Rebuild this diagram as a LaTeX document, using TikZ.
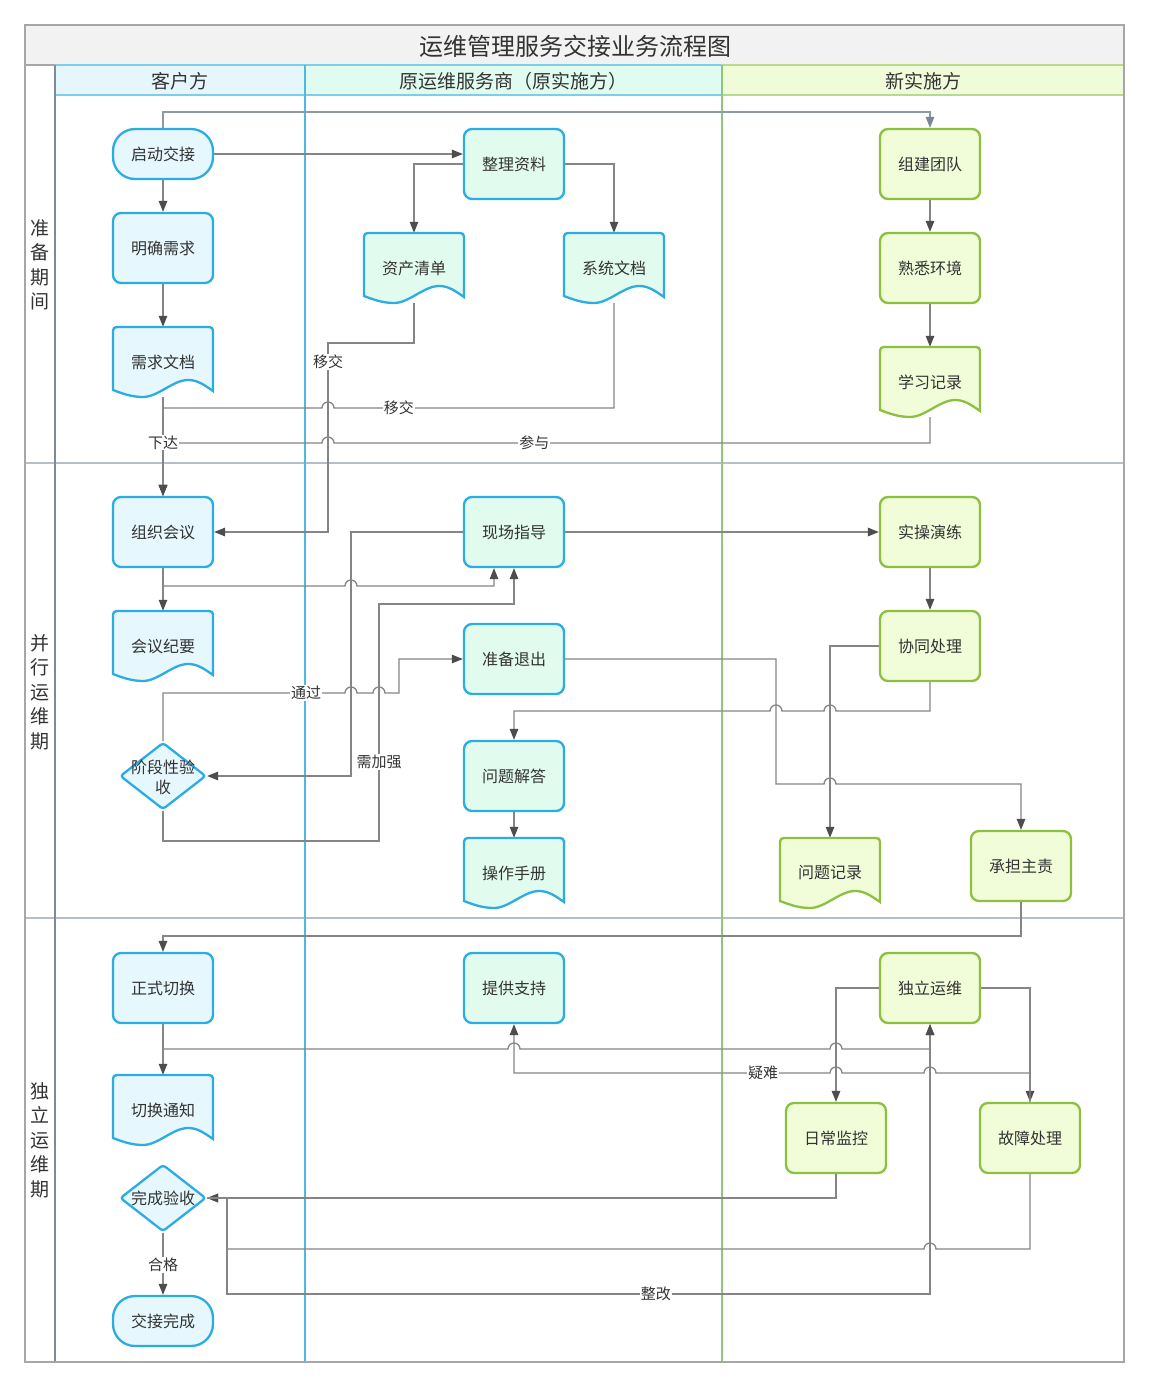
\documentclass[tikz,border=0pt]{standalone}
\usepackage{fontspec}
\setmainfont{Noto Sans CJK SC}
\usetikzlibrary{arrows.meta,shapes.geometric,calc}
\definecolor{textgray}{HTML}{333333}
\definecolor{bluefill}{HTML}{E6F7FD}
\definecolor{blueedge}{HTML}{2BACE2}
\definecolor{mintfill}{HTML}{E1FCEF}
\definecolor{greenfill}{HTML}{F1FCD9}
\definecolor{greenedge}{HTML}{8CC03F}
\definecolor{titlebg}{HTML}{F2F2F2}
\definecolor{hOne}{HTML}{E5F6FC}
\definecolor{hTwo}{HTML}{E0FBEF}
\definecolor{hThree}{HTML}{F0FBDA}
\definecolor{hBlueEdge}{HTML}{7FCDEB}
\definecolor{hGreenEdge}{HTML}{B7DA8C}
\definecolor{laneblue}{HTML}{4DB8E0}
\definecolor{lanegreen}{HTML}{8DC77B}
\definecolor{rightgreen}{HTML}{A9C97A}
\definecolor{leftgray}{HTML}{7F8A95}
\definecolor{sepgray}{HTML}{B8BEC8}
\definecolor{outergray}{HTML}{A6A6A6}
\definecolor{linegray}{HTML}{858585}
\definecolor{arrowgray}{HTML}{4D4D4D}
\definecolor{startline}{HTML}{8D99A6}
\definecolor{startarrow}{HTML}{7B8794}
\newcommand\nodefont{\fontsize{16pt}{20pt}\selectfont}
\newcommand\lblfont{\fontsize{15pt}{18pt}\selectfont}
\newcommand\docnode[6]{%
  \path[draw=#6, fill=#5, line width=2.3pt]
    ({#2-50},{#3+28}) -- ({#2-50},{#3-27}) .. controls ({#2-50},{#3-35}) .. ({#2-42},{#3-35})
    -- ({#2+42},{#3-35}) .. controls ({#2+50},{#3-35}) .. ({#2+50},{#3-27})
    -- ({#2+50},{#3+29}) .. controls ({#2+40},{#3+22}) and ({#2+34},{#3+18}) .. ({#2+25},{#3+18})
    .. controls ({#2+10},{#3+18}) and ({#2-5},{#3+35}) .. ({#2-20},{#3+35})
    .. controls ({#2-32},{#3+35}) and ({#2-42},{#3+31}) .. ({#2-50},{#3+28}) -- cycle;
  \node[docbox] (#1) at (#2,#3) {#4};%
}
\pgfdeclarelayer{lanes}
\pgfdeclarelayer{conns}
\pgfsetlayers{lanes,conns,main}
\tikzset{
  base/.style={font=\nodefont, text=textgray, line width=2.3pt, inner sep=2pt},
  procA/.style={base, rectangle, rounded corners=8pt, minimum width=100pt, minimum height=70pt, draw=blueedge, fill=bluefill},
  procB/.style={procA, fill=mintfill},
  procC/.style={procA, draw=greenedge, fill=greenfill},
  termA/.style={base, rectangle, rounded corners=22pt, minimum width=100pt, minimum height=50pt, draw=blueedge, fill=bluefill},
  decA/.style={base, diamond, minimum width=86pt, minimum height=67pt, inner sep=0pt, draw=blueedge, fill=bluefill, rounded corners=3pt},
  dectext/.style={font=\nodefont, text=textgray, inner sep=0pt, align=center},
  docbox/.style={rectangle, minimum width=100pt, minimum height=70pt, inner sep=0pt, font=\nodefont, text=textgray},
  lbl/.style={fill=white, inner sep=1pt, font=\lblfont, text=textgray},
  conn/.style={draw=linegray, line width=1.3pt, -{Triangle[length=11pt,width=8.5pt,color=arrowgray]}},
  phase/.style={font=\fontsize{19pt}{24.5pt}\selectfont, text=textgray, align=center},
  head/.style={font=\fontsize{19pt}{22pt}\selectfont, text=textgray}
}
\begin{document}
\begin{tikzpicture}[x=1pt,y=-1pt]
\useasboundingbox (0,0) rectangle (1149,1387);
\begin{pgfonlayer}{lanes}
\fill[white] (0,0) rectangle (1149,1387);
\fill[titlebg] (25,25) rectangle (1124,65);
\node[font=\fontsize{24pt}{28pt}\selectfont, text=textgray] (title) at (575,46) {运维管理服务交接业务流程图};
\filldraw[fill=hOne, draw=hBlueEdge, line width=1.2pt] (55,65) rectangle (305,95);
\filldraw[fill=hTwo, draw=hBlueEdge, line width=1.2pt] (305,65) rectangle (722,95);
\filldraw[fill=hThree, draw=hGreenEdge, line width=1.2pt] (722,65) rectangle (1124,95);
\node[head] (h1) at (180,81) {客户方};
\node[head] (h2) at (513,81) {原运维服务商（原实施方）};
\node[head] (h3) at (923,81) {新实施方};
\draw[sepgray, line width=1.2pt] (25,463) -- (1124,463);
\draw[sepgray, line width=1.2pt] (25,918) -- (1124,918);
\draw[leftgray, line width=1.2pt] (55,65) -- (55,1362);
\draw[laneblue, line width=1.5pt] (305,65) -- (305,1362);
\draw[lanegreen, line width=1.5pt] (722,65) -- (722,1362);
\draw[rightgreen, line width=1.5pt] (1124,65) -- (1124,1362);
\draw[outergray, line width=1.5pt] (25,25) rectangle (1124,1362);
\draw[outergray, line width=1.2pt] (25,65) -- (55,65);
\node[phase] (p1) at (40,265) {准\\备\\期\\间};
\node[phase] (p2) at (40,692) {并\\行\\运\\维\\期};
\node[phase] (p3) at (40,1140) {独\\立\\运\\维\\期};
\end{pgfonlayer}

% ---- nodes: lane 1
\node[termA] (start) at (163,154) {启动交接};
\node[procA] (req) at (163,248) {明确需求};
\docnode{reqdoc}{163}{362}{需求文档}{bluefill}{blueedge}
\node[procA] (meet) at (163,532) {组织会议};
\docnode{minutes}{163}{646}{会议纪要}{bluefill}{blueedge}
\node[decA] (acc1) at (163,776) {};
\node[dectext] (acc1t) at (163,777) {阶段性验\\收};
\node[procA] (cut) at (163,988) {正式切换};
\docnode{notice}{163}{1110}{切换通知}{bluefill}{blueedge}
\node[decA] (acc2) at (163,1198) {};
\node[dectext] (acc2t) at (163,1198) {完成验收};
\node[termA] (done) at (163,1321) {交接完成};
% ---- lane 2
\node[procB] (org) at (514,164) {整理资料};
\docnode{asset}{414}{268}{资产清单}{mintfill}{blueedge}
\docnode{sysdoc}{614}{268}{系统文档}{mintfill}{blueedge}
\node[procB] (guide) at (514,532) {现场指导};
\node[procB] (exit) at (514,659) {准备退出};
\node[procB] (qa) at (514,776) {问题解答};
\docnode{manual}{514}{873}{操作手册}{mintfill}{blueedge}
\node[procB] (support) at (514,988) {提供支持};
% ---- lane 3
\node[procC] (team) at (930,164) {组建团队};
\node[procC] (env) at (930,268) {熟悉环境};
\docnode{study}{930}{382}{学习记录}{greenfill}{greenedge}
\node[procC] (drill) at (930,532) {实操演练};
\node[procC] (coop) at (930,646) {协同处理};
\docnode{issue}{830}{873}{问题记录}{greenfill}{greenedge}
\node[procC] (lead) at (1021,866) {承担主责};
\node[procC] (indep) at (930,988) {独立运维};
\node[procC] (monitor) at (836,1138) {日常监控};
\node[procC] (fault) at (1030,1138) {故障处理};

\begin{pgfonlayer}{conns}
\draw[conn, draw=startline, -{Triangle[length=11pt,width=8.5pt,color=startarrow]}] (start.north) -- (163,112) -- (930,112) -- (team.north);
\draw[conn] (start.east) -- (start.east -| org.west);
\draw[conn] (start.south) -- (req.north);
\draw[conn] (req.south) -- (reqdoc.north);
\draw[conn] (org.west) -| (asset.north);
\draw[conn] (org.east) -| (sysdoc.north);
\draw[conn] (team.south) -- (env.north);
\draw[conn] (env.south) -- (study.north);
\draw[conn] (asset.south) -- (414,343) -- (328,343) -- node[lbl,pos=0.1] (l1) {移交} (328,532) -- (meet.east);
\draw[conn] (sysdoc.south) -- (614,408) -- node[lbl,pos=0.768] (l2) {移交} (334,408) arc[start angle=0,end angle=180,radius=6pt] -- (163,408) -- (meet.north);
\draw[conn] (study.south) -- (930,443) -- node[lbl,pos=0.664] (l3) {参与} (334,443) arc[start angle=0,end angle=180,radius=6pt] -- (163,443) -- (meet.north);
\draw[conn] (reqdoc.south) -- node[lbl,pos=0.46] (l4) {下达} (meet.north);
\draw[conn] (meet.south) -- (minutes.north);
\draw[conn] (meet.south) -- (163,586) -- (345,586) arc[start angle=180,end angle=0,radius=6pt] -- (494,586) -- ([xshift=-20pt]guide.south);
\draw[conn] (guide.west) -- (351,532) -- (351,776) -- (acc1.east);
\draw[conn] (guide.east) -- (drill.west);
\draw[conn] (acc1.north) -- (163,693) -- node[lbl,pos=0.786] (l5) {通过} (345,693) arc[start angle=180,end angle=0,radius=6pt] -- (373,693) arc[start angle=180,end angle=0,radius=6pt] -- (399,693) -- (399,659) -- (exit.west);
\draw[conn] (acc1.south) -- (163,841) -- (379,841) -- node[lbl,pos=0.333] (l6) {需加强} (379,604) -- (514,604) -- (guide.south);
\draw[conn] (drill.south) -- (coop.north);
\draw[conn] (coop.south) -- (930,711) -- (836,711) arc[start angle=0,end angle=180,radius=6pt] -- (782,711) arc[start angle=0,end angle=180,radius=6pt] -- (514,711) -- (qa.north);
\draw[conn] (coop.west) -| (issue.north);
\draw[conn] (exit.east) -- (776,659) -- (776,784) -- (824,784) arc[start angle=180,end angle=0,radius=6pt] -- (1021,784) -- (lead.north);
\draw[conn] (qa.south) -- (manual.north);
\draw[conn] (lead.south) -- (1021,936) -- (163,936) -- (cut.north);
\draw[conn] (cut.south) -- (notice.north);
\draw[conn] (cut.south) -- (163,1049) -- (508,1049) arc[start angle=180,end angle=0,radius=6pt] -- (830,1049) arc[start angle=180,end angle=0,radius=6pt] -- (930,1049) -- (indep.south);
\draw[conn] (indep.west) -| (monitor.north);
\draw[conn] (indep.east) -| (fault.north);
\draw[conn] (fault.north) -- (1030,1073) -- (936,1073) arc[start angle=0,end angle=180,radius=6pt] -- (842,1073) arc[start angle=0,end angle=180,radius=6pt] -- node[lbl,pos=0.212] (l7) {疑难} (514,1073) -- (support.south);
\draw[conn] (monitor.south) -- (836,1198) -- (acc2.east);
\draw[conn] (fault.south) -- (1030,1249) -- (936,1249) arc[start angle=0,end angle=180,radius=6pt] -- (227,1249) -- (227,1198) -- (acc2.east);
\draw[conn] (acc2.east) -- (227,1198) -- (227,1294) -- node[lbl,pos=0.61] (l8) {整改} (930,1294) -- (indep.south);
\draw[conn] (acc2.south) -- node[lbl,pos=0.52] (l9) {合格} (done.north);
\end{pgfonlayer}
\end{tikzpicture}
\end{document}
